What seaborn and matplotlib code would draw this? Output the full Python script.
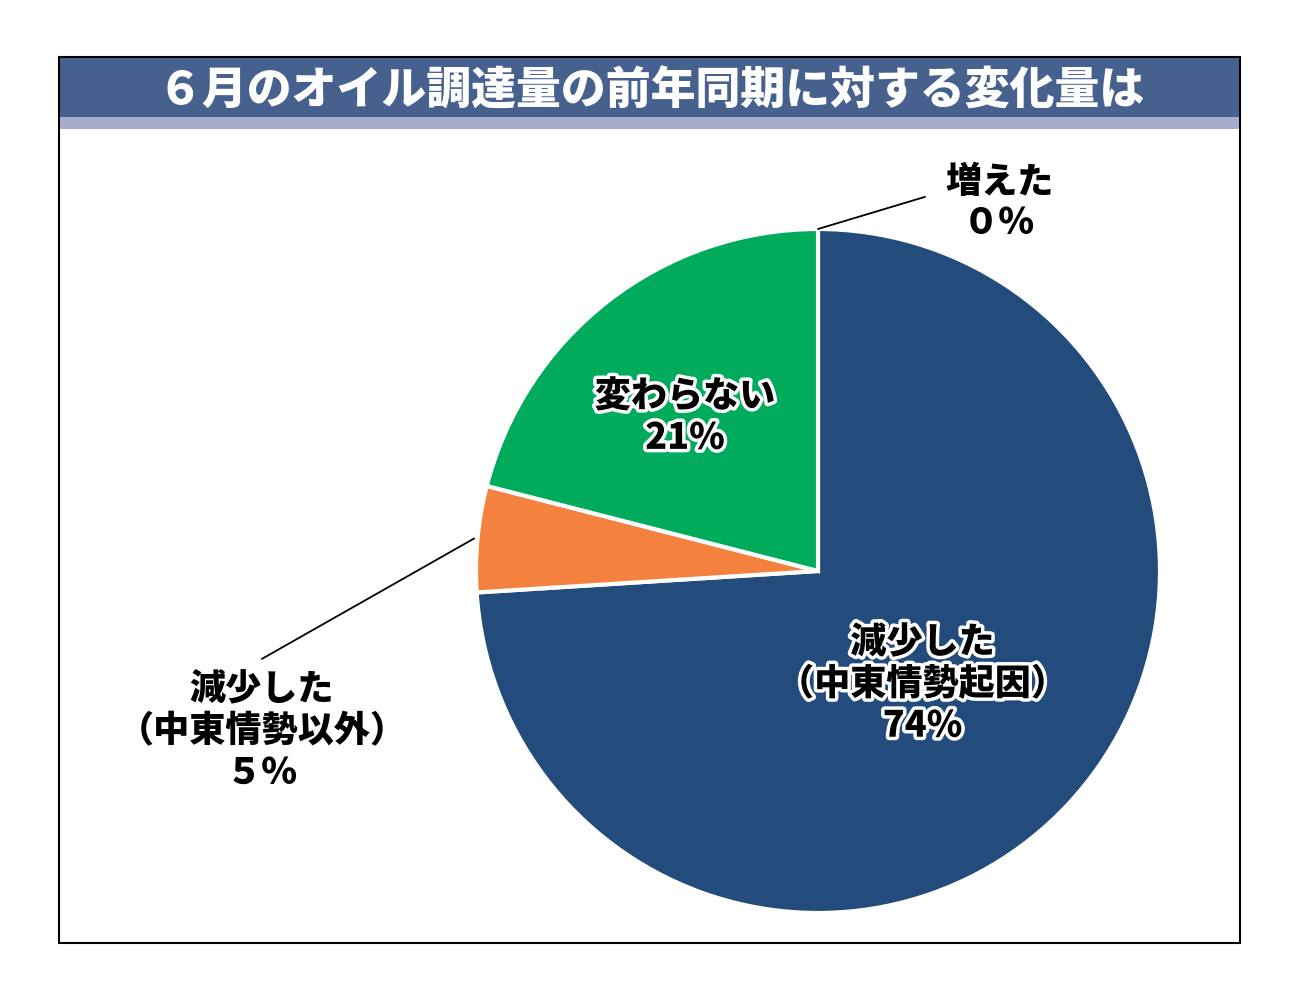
import numpy as np
import matplotlib
matplotlib.use("Agg")
import matplotlib.pyplot as plt
import matplotlib.patheffects as pe
from matplotlib.patches import Rectangle
import seaborn as sns

# ---- data ----
title = "６月のオイル調達量の前年同期に対する変化量は"
categories = ["増えた", "減少した\n（中東情勢起因）", "減少した\n（中東情勢以外）", "変わらない"]
values = [0, 74, 5, 21]
value_labels = ["０％", "74%", "５％", "21%"]
colors = ["#e8c23a", "#234b7c", "#f5813f", "#00ab5b"]

sns.set_theme(style="white")
plt.rcParams['font.family'] = ['Noto Sans CJK JP', 'DejaVu Sans']

W, H = 1299, 1004
fig = plt.figure(figsize=(W / 100, H / 100), dpi=100)
fig.patch.set_facecolor("white")

def fx(px): return px / W
def fy(py): return 1 - py / H

fig.add_artist(Rectangle((fx(59), fy(944)), fx(1240) - fx(59), fy(58) - fy(944),
                         transform=fig.transFigure, facecolor="white",
                         edgecolor="black", linewidth=1.5, zorder=0))
fig.add_artist(Rectangle((fx(60), fy(118)), fx(1239) - fx(60), fy(59) - fy(118),
                         transform=fig.transFigure, facecolor="#46618e",
                         edgecolor="none", zorder=1))
fig.add_artist(Rectangle((fx(60), fy(130)), fx(1239) - fx(60), fy(118) - fy(130),
                         transform=fig.transFigure, facecolor="#a5adca",
                         edgecolor="none", zorder=1))
fig.text(fx(651), fy(91), title, color="white", fontsize=32.3, fontweight="black",
         ha="center", va="center", zorder=2)

# pie axes: center (818,572), radius 342 px
cx, cy, r = 818, 572, 342
ax = fig.add_axes([fx(cx - r), fy(cy + r), 2 * r / W, 2 * r / H])
ax.axis("off")
wedges, _ = ax.pie(values, colors=colors, startangle=90, counterclock=False,
                   radius=1, wedgeprops=dict(edgecolor="white", linewidth=3))
ax.set_xlim(-1, 1)
ax.set_ylim(-1, 1)
for a in ax.patches:
    a.set_clip_on(False)

total = sum(values)
cum = np.cumsum([0] + values)
mid_angles = [90 - (cum[i] + values[i] / 2) / total * 360 for i in range(len(values))]

outline = [pe.withStroke(linewidth=5, foreground="white")]
fs = 26
fw = "black"

# inside labels
for i, (rr, dang) in {1: (0.45, -4), 3: (0.595, 3)}.items():
    ang = np.deg2rad(mid_angles[i] + dang)
    ax.text(rr * np.cos(ang), rr * np.sin(ang), categories[i] + "\n" + value_labels[i],
            ha="center", va="center", fontsize=fs, fontweight=fw, color="black",
            linespacing=1.2, path_effects=outline, zorder=5)

# 増えた
ang = np.deg2rad(mid_angles[0])
ax.plot([1.0 * np.cos(ang), 0.313], [1.0 * np.sin(ang), 1.094], color="black", lw=1.3,
        clip_on=False)
ax.text(0.53, 1.08, categories[0] + "\n" + value_labels[0], ha="center", va="center",
        fontsize=fs, fontweight=fw, color="black", linespacing=1.15, clip_on=False)

# 減少した（中東情勢以外）
ang = np.deg2rad(mid_angles[2])
ax.plot([1.01 * np.cos(ang), -1.626], [1.01 * np.sin(ang), -0.257], color="black", lw=1.3,
        clip_on=False)
ax.text(-1.626, -0.465, categories[2] + "\n" + value_labels[2], ha="center", va="center",
        fontsize=fs, fontweight=fw, color="black", linespacing=1.2, clip_on=False)

fig.savefig("out.png", dpi=100)
